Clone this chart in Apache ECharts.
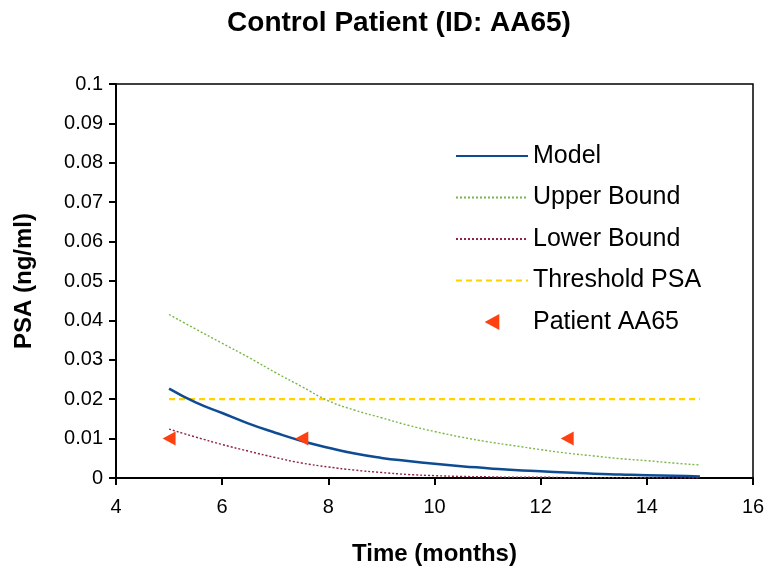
<!DOCTYPE html>
<html>
<head>
<meta charset="utf-8">
<script src="https://cdn.jsdelivr.net/npm/echarts@6/dist/echarts.min.js"></script>
<style>
html,body{margin:0;padding:0;background:#fff;}
#chart{width:768px;height:571px;}
</style>
</head>
<body>
<div id="chart"></div>
<script>
const months = [5,5.5,6,6.5,7,7.5,8,8.5,9,9.5,10,10.5,11,11.5,12,12.5,13,13.5,14,14.5,15];
const modelPSA = [0.0227,0.0192,0.0165,0.0138,0.0115,0.0094,0.0077,0.0062,0.0051,0.0043,0.0036,0.0030,0.0025,0.0020,0.0017,0.0014,0.0011,0.0009,0.0007,0.0006,0.0004];
const upperPSA = [0.0415,0.0378,0.0342,0.0306,0.0268,0.0232,0.0196,0.0172,0.0153,0.0134,0.0118,0.0104,0.0092,0.0082,0.0072,0.0063,0.0056,0.0049,0.0044,0.0038,0.0033];
const lowerPSA = [0.0124,0.0104,0.0085,0.0068,0.0052,0.0038,0.0028,0.0020,0.0014,0.0009,0.0006,0.0004,0.0003,0.0002,0.0002,0.0001,0.0001,0.0001,0.0001,0.0000,0.0000];
const thresholdMonths = [5,15];
const thresholdPSA = [0.02,0.02];
const patientMonths = [5,7.5,12.5];
const patientPSA = [0.01,0.01,0.01];

const pair = (xs, ys) => xs.map((x, i) => [x, ys[i]]);
const FONT = '"Liberation Sans", Arial, sans-serif';
const hideSym = {opacity: 0};

const chart = echarts.init(document.getElementById('chart'));
chart.setOption({
  animation: false,
  backgroundColor: '#fff',
  title: {
    text: 'Control Patient (ID: AA65)',
    left: 394, top: 4, textAlign: 'center',
    textStyle: {fontFamily: FONT, fontSize: 28, fontWeight: 'bold', color: '#000'}
  },
  grid: {left: 116, right: 15, top: 84, bottom: 92, show: true, borderColor: '#000', borderWidth: 1.5, backgroundColor: 'transparent'},
  legend: {
    orient: 'vertical', left: 450, top: 137,
    itemWidth: 72, itemHeight: 16, itemGap: 13.5,
    textStyle: {fontFamily: FONT, fontSize: 25, color: '#000', lineHeight: 28},
    data: [
      {name: 'Model', itemStyle: hideSym},
      {name: 'Upper Bound', itemStyle: hideSym},
      {name: 'Lower Bound', itemStyle: hideSym},
      {name: 'Threshold PSA', itemStyle: hideSym},
      {name: 'Patient AA65'}
    ]
  },
  xAxis: {
    type: 'value', min: 4, max: 16, interval: 2,
    name: 'Time (months)', nameLocation: 'middle', nameGap: 64,
    nameTextStyle: {fontFamily: FONT, fontSize: 24, fontWeight: 'bold', color: '#000'},
    axisLine: {show: true, onZero: false, lineStyle: {color: '#000', width: 2}},
    axisTick: {show: true, length: 7, lineStyle: {color: '#000', width: 2}},
    axisLabel: {fontFamily: FONT, fontSize: 20, color: '#000', margin: 19},
    splitLine: {show: false}
  },
  yAxis: {
    type: 'value', min: 0, max: 0.1, interval: 0.01,
    name: 'PSA (ng/ml)', nameLocation: 'middle', nameGap: 80,
    nameTextStyle: {fontFamily: FONT, fontSize: 24, fontWeight: 'bold', color: '#000'},
    axisLine: {show: true, lineStyle: {color: '#000', width: 2}},
    axisTick: {show: true, length: 7, lineStyle: {color: '#000', width: 2}},
    axisLabel: {fontFamily: FONT, fontSize: 20, color: '#000', margin: 13},
    splitLine: {show: false}
  },
  series: [
    {name: 'Model', type: 'line', data: pair(months, modelPSA), smooth: true, showSymbol: false, symbol: 'none',
     lineStyle: {color: '#0D4C93', width: 2.5}, itemStyle: {color: '#0D4C93'}, z: 4},
    {name: 'Upper Bound', type: 'line', data: pair(months, upperPSA), smooth: true, showSymbol: false, symbol: 'none',
     lineStyle: {color: '#7AB648', width: 1.4, type: [2, 2]}, itemStyle: {color: '#7AB648'}, z: 3},
    {name: 'Lower Bound', type: 'line', data: pair(months, lowerPSA), smooth: true, showSymbol: false, symbol: 'none',
     lineStyle: {color: '#8E2346', width: 1.4, type: [2, 2]}, itemStyle: {color: '#8E2346'}, z: 3},
    {name: 'Threshold PSA', type: 'line', data: pair(thresholdMonths, thresholdPSA), showSymbol: false, symbol: 'none',
     lineStyle: {color: '#FFD200', width: 2.2, type: [6, 4]}, itemStyle: {color: '#FFD200'}, z: 2},
    {name: 'Patient AA65', type: 'scatter', data: pair(patientMonths, patientPSA),
     symbol: 'path://M0,6L11,0L11,12Z', symbolSize: [13, 14],
     itemStyle: {color: '#FF4010', opacity: 1}, z: 5}
  ]
});
</script>
</body>
</html>
